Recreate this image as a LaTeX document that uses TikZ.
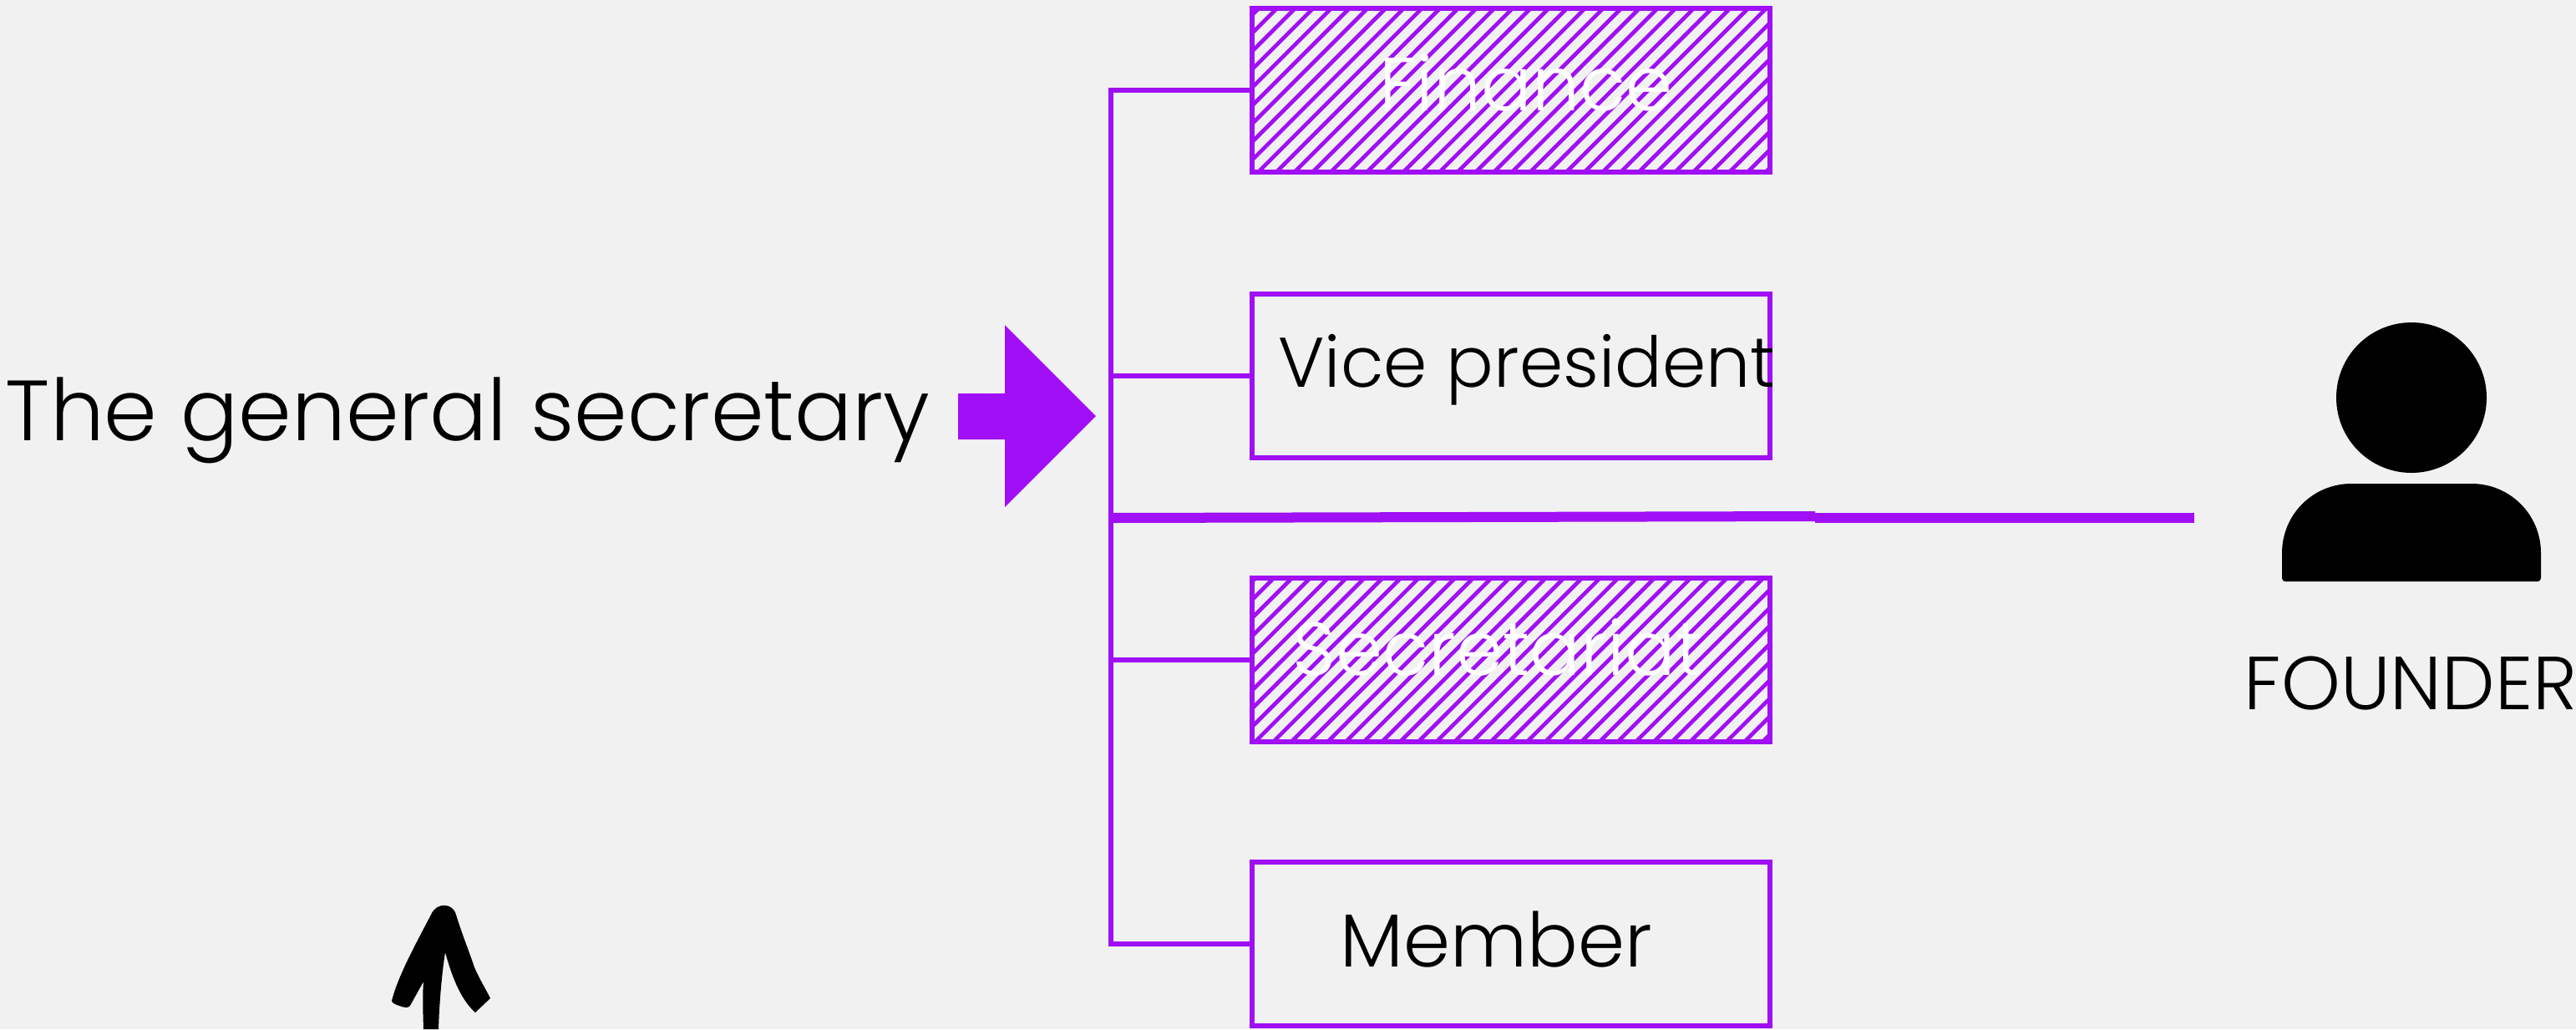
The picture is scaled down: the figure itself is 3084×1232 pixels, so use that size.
\documentclass[tikz,border=0pt]{standalone}
\usepackage{fontspec}
\setmainfont{Poppins}[UprightFont=* Light]
\definecolor{bgGray}{HTML}{F1F1F1}
\definecolor{orgPurple}{HTML}{A00FF5}
\def\bigText{\fontsize{25.6}{30}\selectfont}
\def\viceText{\fontsize{23.9}{30}\selectfont}
\def\wideText{\fontsize{29.1}{34}\selectfont}
\def\hatchBox#1#2#3#4{%
  \begin{scope}
    \clip ([shift={(3,-3)}]#1.south west) rectangle ([shift={(-3,3)}]#1.north east);
    \foreach \k in {-2,...,37}
      \draw[hatchline] ({#2+21.7*\k-(#3)},#3) -- ({#2+21.7*\k-(#4)},#4);
  \end{scope}}
\tikzset{
  orgbox/.style={draw=orgPurple,line width=0.06cm,minimum width=6.2cm,minimum height=1.96cm,inner sep=0},
  hatchline/.style={draw=orgPurple,line width=0.047cm},
  orgtext/.style={anchor=base,inner sep=0,font=\bigText},
  branch/.style={draw=orgPurple,line width=0.055cm}
}

\begin{document}
\begin{tikzpicture}[x=0.01cm,y=-0.01cm]
  \fill[bgGray] (0,0) rectangle (3084,1232);
  \useasboundingbox (0,0) rectangle (3084,1232);

  \node[orgbox] (finance) at (1809,108) {};
  \node[orgbox] (vice) at (1809,450) {};
  \node[orgbox] (secretariat) at (1809,790) {};
  \node[orgbox] (member) at (1809,1130) {};

  \hatchBox{finance}{1538.7}{-20}{230}
  \hatchBox{secretariat}{2217}{670}{910}

  \node[orgtext,white] (financetext) at (1827,132) {Finance};
  \node[orgtext,font=\viceText] (vicetext) at (1828,463) {Vice president};
  \node[orgtext,white] (secretariattext) at (1793,808) {Secretariat};
  \node[orgtext] (membertext) at (1791,1157) {Member};

  \coordinate (trunktop) at (1330,108);
  \coordinate (trunkvice) at (1330,450);
  \coordinate (trunksec) at (1330,790);
  \coordinate (trunkbot) at (1330,1130);
  \draw[branch,line cap=rect] (trunktop) -- (trunkbot);
  \draw[branch] (trunktop) -- (finance.west);
  \draw[branch] (trunkvice) -- (vice.west);
  \draw[branch] (trunksec) -- (secretariat.west);
  \draw[branch] (trunkbot) -- (member.west);

  \coordinate (lineleft) at (1328,620);
  \coordinate (linemid) at (2173,618);
  \coordinate (linemidb) at (2173,620);
  \coordinate (lineright) at (2627,620);
  \draw[draw=orgPurple,line width=0.12cm] (lineleft) -- (linemid);
  \draw[draw=orgPurple,line width=0.12cm] (linemidb) -- (lineright);

  \node[orgtext,font=\wideText] (secretary) at (560,527) {The general secretary};
  \fill[orgPurple] (1147,471) -- (1203,471) -- (1203,389) -- (1312,498) -- (1203,607) -- (1203,526) -- (1147,526) -- cycle;

  % founder
  \fill[black] (2887,476) circle[radius=90];
  \fill[black] (2732,662) .. controls (2732,616) and (2769,579) .. (2815,579) -- (2959,579)
    .. controls (3005,579) and (3042,616) .. (3042,662) -- (3042,692)
    .. controls (3042,695) and (3040,696) .. (3038,696) -- (2736,696)
    .. controls (2734,696) and (2732,695) .. (2732,692) -- cycle;
  \node[orgtext] (founder) at (2886,849) {FOUNDER};

  % hand drawn arrow
  \fill[black] (507,1232) .. controls (506,1200) and (506,1190) .. (507,1175)
    -- (492,1202) .. controls (490,1207) and (486,1207) .. (478,1204)
    .. controls (472,1202) and (469,1200) .. (469,1198)
    .. controls (476,1170) and (495,1135) .. (516,1095)
    .. controls (522,1080) and (542,1080) .. (546,1095)
    .. controls (552,1115) and (562,1140) .. (568,1158)
    .. controls (574,1172) and (582,1185) .. (587,1195)
    -- (569,1212) .. controls (550,1195) and (540,1165) .. (533,1140)
    .. controls (529,1165) and (526,1200) .. (525,1232) -- cycle;
\end{tikzpicture}
\end{document}
